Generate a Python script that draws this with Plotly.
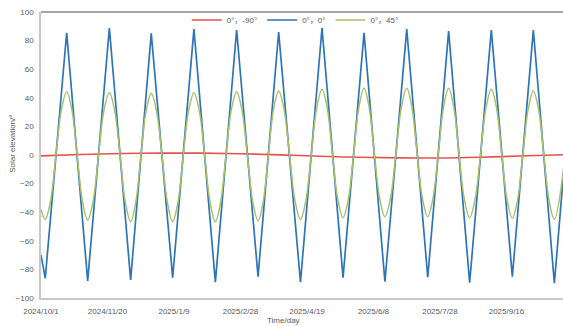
import plotly.graph_objects as go

# ---- data (days after 2024/10/1) ----
x_tick_days = [0, 50, 100, 150, 200, 250, 300, 350]
x_tick_labels = ["2024/10/1", "2024/11/20", "2025/1/9", "2025/2/28",
                 "2025/4/19", "2025/6/8", "2025/7/28", "2025/9/16"]
y_tick_vals = [-100, -80, -60, -40, -20, 0, 20, 40, 60, 80, 100]

series_names = ["0°，-90°", "0°，0°", "0°，45°"]

red_days = [0, 30, 60, 90, 120, 150, 180, 210, 240, 270, 300, 330, 360, 393]
red_vals = [-0.6, 0.3, 1.0, 1.3, 1.3, 0.9, 0.1, -0.9, -1.6, -2.0, -2.1, -1.6, -0.7, 0.2]

blue_days = [0, 3.2, 19.3, 35.1, 51.4, 67.4, 82.9, 99.0, 115.0, 131.1, 147.1,
             163.2, 178.7, 195.1, 211.3, 227.1, 242.9, 258.6, 275.0, 290.8,
             306.5, 322.3, 338.6, 354.4, 370.2, 386.0, 393]
blue_vals = [-70, -86.2, 85.5, -88.1, 88.8, -87.4, 85.1, -85.8, 88.0, -89.0, 87.4,
             -85.1, 86.0, -89.0, 88.8, -85.8, 85.5, -88.6, 88.0, -85.5,
             86.6, -89.3, 87.4, -85.1, 87.4, -89.7, -12]

green_days = [0, 3.2, 7.2, 11.25, 15.3, 19.3, 23.25, 27.2, 31.15, 35.1,
              39.2, 43.25, 47.3, 51.4, 55.4, 59.4, 63.4, 67.4,
              71.3, 75.15, 79.0, 82.9, 86.9, 90.95, 95.0, 99.0,
              103.0, 107.0, 111.0, 115.0, 119.0, 123.05, 127.1, 131.1,
              135.1, 139.1, 143.1, 147.1, 151.1, 155.15, 159.2, 163.2,
              167.1, 170.95, 174.8, 178.7, 182.8, 186.9, 191.0, 195.1,
              199.15, 203.2, 207.25, 211.3, 215.25, 219.2, 223.15, 227.1,
              231.05, 235.0, 238.95, 242.9, 246.8, 250.75, 254.7, 258.6,
              262.7, 266.8, 270.9, 275.0, 278.95, 282.9, 286.85, 290.8,
              294.7, 298.65, 302.6, 306.5, 310.45, 314.4, 318.35, 322.3,
              326.4, 330.45, 334.5, 338.6, 342.55, 346.5, 350.45, 354.4,
              358.35, 362.3, 366.25, 370.2, 374.15, 378.1, 382.05, 386.0, 393]
green_vals = [-38, -45.0, -32.0, 0, 31.5, 44.3, 31.5, 0, -32.3, -45.5,
              -32.3, 0, 31.0, 43.6, 31.0, 0, -33.0, -46.6,
              -33.0, 0, 30.6, 43.1, 30.6, 0, -33.0, -46.6,
              -33.0, 0, 31.0, 43.6, 31.0, 0, -33.0, -46.6,
              -33.0, 0, 31.5, 44.3, 31.5, 0, -32.6, -45.9,
              -32.6, 0, 31.8, 44.8, 31.8, 0, -32.0, -45.0,
              -32.0, 0, 32.6, 45.9, 32.6, 0, -31.1, -43.8,
              -31.1, 0, 33.0, 46.6, 33.0, 0, -30.6, -43.1,
              -30.6, 0, 33.0, 46.6, 33.0, 0, -30.6, -43.1,
              -30.6, 0, 33.0, 46.6, 33.0, 0, -31.1, -43.8,
              -31.1, 0, 32.6, 45.9, 32.6, 0, -31.5, -44.3,
              -31.5, 0, 31.8, 44.8, 31.8, 0, -32.0, -45.0, -9]

FONT = "Liberation Sans, Noto Sans CJK SC, sans-serif"
GREY = "#595959"

fig = go.Figure()
fig.add_trace(go.Scatter(x=red_days, y=red_vals, mode="lines", name=series_names[0],
                         line=dict(color="#E8524C", width=1.6, shape="spline")))
fig.add_trace(go.Scatter(x=blue_days, y=blue_vals, mode="lines", name=series_names[1],
                         line=dict(color="#2E75B6", width=1.7)))
fig.add_trace(go.Scatter(x=green_days, y=green_vals, mode="lines", name=series_names[2],
                         line=dict(color="#A9C06A", width=1.5, shape="spline", smoothing=1)))

fig.update_layout(
    width=563, height=326,
    margin=dict(l=41, r=0, t=12, b=28),
    plot_bgcolor="white", paper_bgcolor="white",
    font=dict(family=FONT, size=8, color=GREY),
    showlegend=True,
    legend=dict(orientation="h", x=0.487, xanchor="center", y=0.972, yanchor="middle",
                bgcolor="rgba(0,0,0,0)", font=dict(size=8, color=GREY),
                itemwidth=30, tracegroupgap=0),
    xaxis=dict(range=[0, 392.5], tickmode="array", tickvals=x_tick_days,
               ticktext=x_tick_labels, showline=True, linecolor="#c8c8c8", linewidth=1.5,
               showgrid=False, zeroline=False, ticks="", ticklabelstandoff=5,
               tickfont=dict(size=8, color=GREY)),
    yaxis=dict(range=[-100, 100], tickmode="array", tickvals=y_tick_vals,
               showline=True, linecolor="#c8c8c8", linewidth=1.5,
               showgrid=False, zeroline=False, ticks="", ticklabelstandoff=4,
               tickfont=dict(size=8, color=GREY)),
    shapes=[dict(type="line", xref="paper", yref="paper", x0=0, x1=1, y0=1, y1=1,
                 line=dict(color="#a6a6a6", width=2))],
    annotations=[
        dict(text="Time/day", xref="paper", yref="paper", x=0.464, y=-0.08,
             xanchor="center", yanchor="middle", showarrow=False,
             font=dict(size=8, color=GREY)),
        dict(text="Solar elevation/°", xref="paper", yref="paper", x=-0.055, y=0.54,
             xanchor="center", yanchor="middle", textangle=-90, showarrow=False,
             font=dict(size=8, color=GREY)),
    ],
)

fig.write_html("out.html", config={"displayModeBar": False},
               post_script="document.body.style.margin='0';document.body.style.overflow='hidden';")
